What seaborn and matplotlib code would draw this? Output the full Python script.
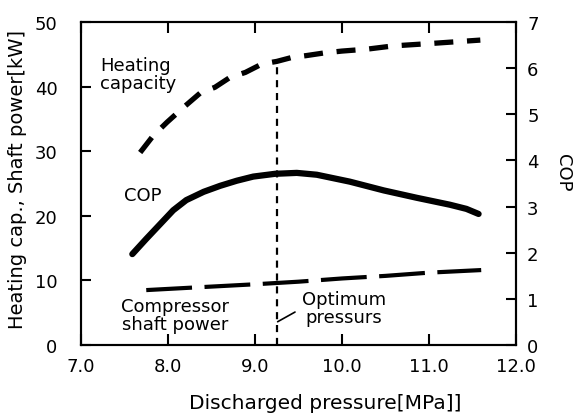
import matplotlib
matplotlib.use("Agg")
import matplotlib.pyplot as plt
import seaborn as sns
import pandas as pd

# ---- data ----
heat_p = [7.68, 7.83, 7.99, 8.18, 8.37, 8.54, 8.71, 8.89, 9.08, 9.25,
          9.42, 9.59, 9.79, 10.0, 10.29, 10.59, 11.05, 11.59]
heat_kw = [29.8, 32.4, 34.5, 36.8, 39.0, 39.9, 41.4, 42.2, 43.5, 43.9,
           44.5, 44.8, 45.2, 45.5, 45.8, 46.3, 46.7, 47.2]

cop_p = [7.59, 7.75, 7.91, 8.06, 8.21, 8.41, 8.60, 8.79, 8.98, 9.23,
         9.48, 9.71, 10.09, 10.48, 10.86, 11.24, 11.43, 11.57]
cop_v = [1.97, 2.30, 2.62, 2.92, 3.14, 3.32, 3.45, 3.56, 3.65, 3.71,
         3.73, 3.69, 3.54, 3.35, 3.19, 3.04, 2.95, 2.84]

shaft_p = [7.75, 8.3, 9.0, 9.5, 10.0, 10.5, 11.0, 11.6]
shaft_kw = [8.5, 8.9, 9.4, 9.8, 10.3, 10.7, 11.2, 11.6]

optimum_p = 9.25
x_ticks = [7.0, 8.0, 9.0, 10.0, 11.0, 12.0]
x_ticklabels = ["7.0", "8.0", "9.0", "10.0", "11.0", "12.0"]
left_ticks = [0, 10, 20, 30, 40, 50]
right_ticks = [0, 1, 2, 3, 4, 5, 6, 7]

sns.set_style("ticks")
plt.rcParams["font.family"] = ["DejaVu Sans"]
plt.rcParams["text.color"] = "black"
plt.rcParams["axes.labelcolor"] = "black"
plt.rcParams["xtick.color"] = "black"
plt.rcParams["ytick.color"] = "black"

fig = plt.figure(figsize=(5.76, 4.14), dpi=100)
ax = fig.add_axes([81/576, 1-346/414, 435/576, 323/414])
ax2 = ax.twinx()

df_heat = pd.DataFrame({"p": heat_p, "v": heat_kw})
df_shaft = pd.DataFrame({"p": shaft_p, "v": shaft_kw})
df_cop = pd.DataFrame({"p": cop_p, "v": cop_v})

sns.lineplot(data=df_heat, x="p", y="v", ax=ax, color="black", lw=3.8,
             linestyle=(0, (3.6, 2.6)), estimator=None, sort=False)
sns.lineplot(data=df_shaft, x="p", y="v", ax=ax, color="black", lw=3.0,
             linestyle=(0, (11, 3)), estimator=None, sort=False)
sns.lineplot(data=df_cop, x="p", y="v", ax=ax2, color="black", lw=4.5,
             estimator=None, sort=False, solid_capstyle="round",
             solid_joinstyle="round")

# optimum vertical line up to heating capacity
opt_heat = heat_kw[heat_p.index(optimum_p)]
ax.plot([optimum_p, optimum_p], [0, opt_heat], color="black", lw=1.6,
        linestyle=(0, (3.2, 2.6)))
# leader line
ax.plot([9.26, 9.46], [3.6, 5.1], color="black", lw=1.2)

ax.set_xlim(7.0, 12.0)
ax.set_ylim(0, 50)
ax2.set_ylim(0, 7)
ax.set_xticks(x_ticks)
ax.set_xticklabels(x_ticklabels)
ax.set_yticks(left_ticks)
ax2.set_yticks(right_ticks)

fs = 13
ax.tick_params(axis="x", which="major", direction="in", length=8, width=1.5,
               colors="black", labelsize=fs, pad=9, top=True, bottom=True)
ax.tick_params(axis="y", which="major", direction="in", length=7, width=1.5,
               colors="black", labelsize=fs, pad=17, left=True)
ax2.tick_params(axis="y", which="major", direction="in", length=7, width=1.5,
                colors="black", labelsize=fs, pad=8, right=True)
for a in (ax, ax2):
    for s in a.spines.values():
        s.set_visible(True)
        s.set_linewidth(1.5)
        s.set_color("black")

ax.set_xlabel("Discharged pressure[MPa]]", fontsize=14.5)
ax.xaxis.set_label_coords(0.561, -0.15)
ax.set_ylabel("Heating cap., Shaft power[kW]", fontsize=14)
ax.yaxis.set_label_coords(-0.125, 0.517)
ax2.set_ylabel("COP", fontsize=fs, rotation=270, va="bottom")
ax2.yaxis.set_label_coords(1.088, 0.537)

ax.text(7.22, 42.0, "Heating\ncapacity", fontsize=fs, ha="left", va="center",
        linespacing=1.0)
ax.text(7.5, 23.2, "COP", fontsize=fs, ha="left", va="center")
ax.text(8.08, 4.6, "Compressor\nshaft power", fontsize=fs, ha="center",
        va="center", linespacing=1.0)
ax.text(10.02, 5.8, "Optimum\npressurs", fontsize=fs, ha="center",
        va="center", linespacing=1.0)

fig.savefig("out.png", dpi=100)
